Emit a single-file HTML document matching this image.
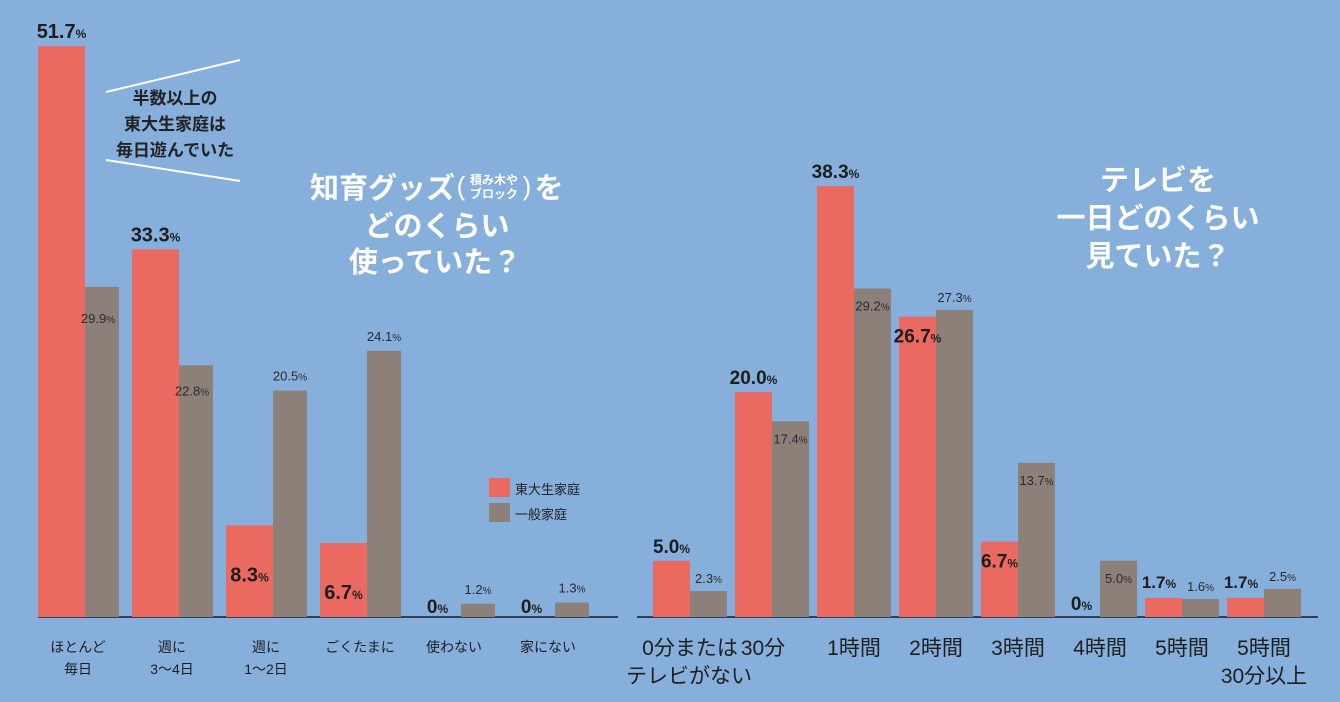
<!DOCTYPE html>
<html><head><meta charset="utf-8">
<style>
html,body{margin:0;padding:0;background:#86afdc;}
svg{display:block;font-family:"Liberation Sans","Noto Sans CJK JP",sans-serif;}
</style></head>
<body>
<svg id="c" width="1340" height="702" viewBox="0 0 1340 702" xmlns="http://www.w3.org/2000/svg">
<rect x="0" y="0" width="1340" height="702" fill="#86afdc"/>
<g>
<line x1="106" y1="92" x2="240" y2="60" stroke="#fff" stroke-width="2"/>
<line x1="106" y1="160" x2="240" y2="181" stroke="#fff" stroke-width="2"/>
<text x="175" y="104" font-size="17" font-weight="bold" fill="#222" text-anchor="middle">半数以上の</text>
<text x="175" y="130" font-size="17" font-weight="bold" fill="#222" text-anchor="middle">東大生家庭は</text>
<text x="175" y="156" font-size="17" font-weight="bold" fill="#222" text-anchor="middle">毎日遊んでいた</text>
</g>
<g fill="#fff" font-weight="bold" text-anchor="middle">
<text x="455" y="198" font-size="29" text-anchor="end">知育グッズ</text>
<text x="461" y="195" font-size="26" font-weight="normal">(</text>
<text x="494" y="184" font-size="12">積み木や</text>
<text x="494" y="198" font-size="12">ブロック</text>
<text x="527" y="195" font-size="26" font-weight="normal">)</text>
<text x="549" y="198" font-size="29">を</text>
<text x="437" y="236" font-size="29">どのくらい</text>
<text x="435" y="272" font-size="29">使っていた？</text>
</g>
<g fill="#fff" font-weight="bold" text-anchor="middle" font-size="29">
<text x="1158" y="190">テレビを</text>
<text x="1158" y="228">一日どのくらい</text>
<text x="1158" y="266">見ていた？</text>
</g>
<g>
<rect x="489" y="478" width="21" height="19" fill="#ea6a62"/>
<text x="515" y="494" font-size="13" fill="#222">東大生家庭</text>
<rect x="489" y="503" width="21" height="19" fill="#8c8078"/>
<text x="515" y="519" font-size="13" fill="#222">一般家庭</text>
</g>
<g id="plot"></g>
</svg>
<script>
const leftCats = [["ほとんど","毎日"],["週に","3〜4日"],["週に","1〜2日"],["ごくたまに"],["使わない"],["家にない"]];
const leftTodai = [51.7, 33.3, 8.3, 6.7, 0, 0];
const leftGeneral = [29.9, 22.8, 20.5, 24.1, 1.2, 1.3];
const rightCats = [["0分または","テレビがない"],["30分"],["1時間"],["2時間"],["3時間"],["4時間"],["5時間"],["5時間","30分以上"]];
const rightTodai = [5.0, 20.0, 38.3, 26.7, 6.7, 0, 1.7, 1.7];
const rightGeneral = [2.3, 17.4, 29.2, 27.3, 13.7, 5.0, 1.6, 2.5];

const NS="http://www.w3.org/2000/svg";
const plot=document.getElementById('plot');
function mk(tag,attrs,txt){const e=document.createElementNS(NS,tag);for(const k in attrs)e.setAttribute(k,attrs[k]);if(txt!==undefined)e.textContent=txt;plot.appendChild(e);return e;}
const base=617;
function yL(v){return base - v*11.04;}
function yR(v){return base - v*11.25;}
function pct(e,v,bold,big,small){
  e.appendChild(document.createTextNode(v===0?"0":v.toFixed(1)));
  const t=document.createElementNS(NS,'tspan');t.setAttribute('font-size',small);t.textContent='%';e.appendChild(t);
}
// Left chart
const lax=mk('line',{x1:38,y1:base,x2:618,y2:base,stroke:'#2f3f55','stroke-width':2});


leftCats.forEach((c,i)=>{
  const x0=38+i*94;
  const vr=leftTodai[i], vg=leftGeneral[i];
  const r=mk('rect',{x:x0,y:yL(vr),width:47,height:base-yL(vr),fill:'#ea6a62'});
  
  
  const g=mk('rect',{x:x0+47,y:yL(vg),width:34,height:base-yL(vg),fill:'#8c8078'});
  
  
  let ly, fs;
  if(vr>20){ly=yL(vr)-8;fs=20;} else if(vr>0){ly=yL(vr)+56;fs=20;} else {ly=base-4;fs=19;}
  const t=mk('text',{x:x0+23.5,y:ly,'font-size':fs,'font-weight':'bold',fill:'#1e1e1e','text-anchor':'middle'});
  pct(t,vr,true,fs,12);
  
  
  const gy = vg>25 && i===0 ? yL(vg)+36 : (vg>22.5 && i===1 ? yL(vg)+30 : yL(vg)-10);
  const tg=mk('text',{x:x0+47+17+(i<2?-4:0),y:gy,'font-size':13,fill:'#2a2a2a','text-anchor':'middle'});
  pct(tg,vg,false,13,10);
  
  
  c.forEach((s,j)=>{
    const ct=mk('text',{x:x0+40,y:652+j*22,'font-size':14,fill:'#1e1e1e','text-anchor':'middle'},s);
    
    
  });
});
// Right chart
const rax=mk('line',{x1:637,y1:base,x2:1318,y2:base,stroke:'#2f3f55','stroke-width':2});


const rLabelIn=[false,false,false,true,true,false,false,false];
const gLabelIn=[false,true,true,false,true,true,false,false];
rightCats.forEach((c,i)=>{
  const x0=653+i*82;
  const vr=rightTodai[i], vg=rightGeneral[i];
  const r=mk('rect',{x:x0,y:yR(vr),width:37,height:base-yR(vr),fill:'#ea6a62'});
  
  
  const g=mk('rect',{x:x0+37,y:yR(vg),width:37,height:base-yR(vg),fill:'#8c8078'});
  
  
  let ly, lx=x0+18.5, fs=19;
  if(vr===0){ly=base-7;}
  else if(rLabelIn[i]){ly=yR(vr)+26;}
  else if(vr<3){ly=yR(vr)-10;fs=17;lx=x0+14;}
  else {ly=yR(vr)-8;}
  const t=mk('text',{x:lx,y:ly,'font-size':fs,'font-weight':'bold',fill:'#1e1e1e','text-anchor':'middle'});
  pct(t,vr,true,fs,12);
  
  
  const gy = gLabelIn[i] ? yR(vg)+22 : yR(vg)-8;
  const tg=mk('text',{x:x0+37+18.5,y:gy,'font-size':13,fill:'#2a2a2a','text-anchor':'middle'});
  pct(tg,vg,false,13,10);
  
  
  c.forEach((s,j)=>{
    let cx=x0+37;
    if(i===0) cx = j===0? x0+37 : x0+36;
    if(i===1) cx = x0+28;
    const ct=mk('text',{x:cx,y:655+j*28,'font-size':21,fill:'#1e1e1e','text-anchor':'middle'},s);
    
    
  });
});
</script>
</body></html>
